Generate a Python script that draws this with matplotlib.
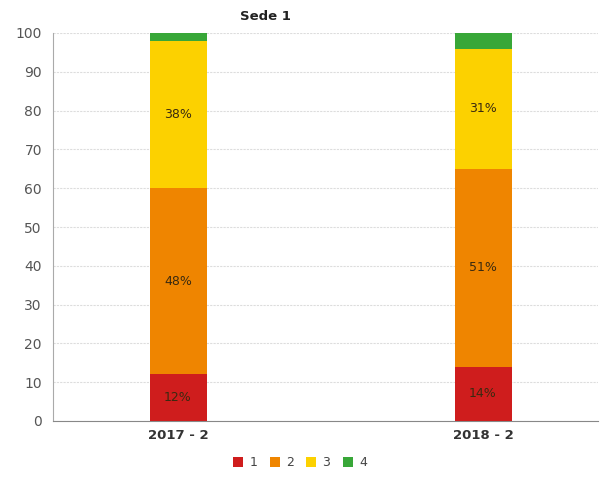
import numpy as np
import matplotlib
matplotlib.use("Agg")
import matplotlib.pyplot as plt

# data
periods = ['2017 - 2', '2018 - 2']
levels = ['1', '2', '3', '4']
values = {
    '1': [12, 14],
    '2': [48, 51],
    '3': [38, 31],
    '4': [2, 4],
}
colors = {'1': '#cf1d1d', '2': '#ef8500', '3': '#fcd100', '4': '#38a738'}

fig = plt.figure(figsize=(6.01, 4.78), dpi=100)
ax = fig.add_axes([53 / 601, 1 - 421 / 478, 545 / 601, 388 / 478])

x = np.arange(len(periods))
bottom = np.zeros(len(periods))
for lv in levels:
    v = np.array(values[lv], dtype=float)
    ax.bar(x, v, width=0.187, bottom=bottom, color=colors[lv], label=lv, zorder=3)
    for xi, vi, bi in zip(x, v, bottom):
        if vi >= 10:
            ax.text(xi, bi + vi / 2, f'{int(vi)}%', ha='center', va='center',
                    fontsize=9, color='#3a2a10', zorder=4)
    bottom += v

ax.set_xlim(-0.41, 1.377)
ax.set_ylim(0, 100)
ax.set_yticks(range(0, 101, 10))
ax.set_xticks(x)
ax.set_xticklabels(periods, fontweight='bold', color='#333333', fontsize=9.5)
ax.tick_params(axis='y', labelsize=10, colors='#555555', length=0, pad=8)
ax.tick_params(axis='x', length=0, pad=6)
ax.grid(axis='y', color='#dddddd', linewidth=0.8, linestyle=(0, (2, 1)), zorder=0)
for s in ['top', 'right']:
    ax.spines[s].set_visible(False)
ax.spines['left'].set_color('#aaaaaa')
ax.spines['bottom'].set_color('#888888')

fig.text(265 / 601, 1 - 17 / 478, 'Sede 1', ha='center', va='center',
         fontsize=9.5, fontweight='bold', color='#222222')

fig.legend(loc='center', bbox_to_anchor=(300 / 601, 1 - 463 / 478), ncol=4,
           frameon=False, fontsize=9, handlelength=0.8, handleheight=0.8,
           handletextpad=0.5, columnspacing=1.0, labelcolor='#444444')

fig.savefig('out.png', dpi=100)
